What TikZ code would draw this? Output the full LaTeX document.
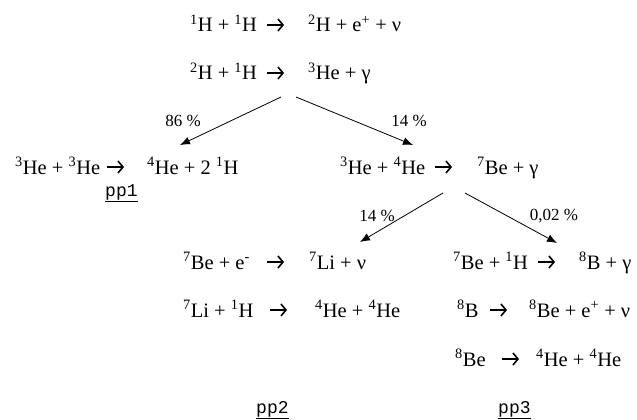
\documentclass[tikz,border=0pt]{standalone}
\usepackage{fontspec}
\setmainfont{Liberation Serif}
\newfontfamily\ppfont{Liberation Mono}
\usetikzlibrary{arrows.meta}
\tikzset{
  eq/.style={inner sep=0pt, anchor=base west, font=\fontsize{20.5}{24}\selectfont},
  pct/.style={inner sep=0pt, anchor=center, font=\fontsize{17}{20}\selectfont},
  pplabel/.style={inner sep=0pt, anchor=base west, font=\ppfont\fontsize{18}{20}\selectfont},
  conn/.style={line width=0.8pt, -{Latex[length=10pt,width=8pt]}},
  reac/.style={line width=1.5pt, line cap=butt, -{Straight Barb[length=5pt,width=12pt,line width=1.6pt]}}
}
\newcommand{\su}[1]{\textsuperscript{#1}}
\newcommand{\reacarrow}[2]{\coordinate (#1) at (#2); \draw[reac] (#1) -- ++(17,0);}
\begin{document}
\begin{tikzpicture}[x=1pt,y=-1pt]
\useasboundingbox (0,0) rectangle (637,420);
% row 1
\node[eq] (r1l) at (190,32) {\su{1}H + \su{1}H};
\reacarrow{r1a}{267,25}
\node[eq] (r1r) at (308,32) {\su{2}H + e\su{+} + ν};
% row 2
\node[eq] (r2l) at (190,80) {\su{2}H + \su{1}H};
\reacarrow{r2a}{267,73}
\node[eq] (r2r) at (308,80) {\su{3}He + γ};
% row 3 left
\node[eq] (r3ll) at (15,174) {\su{3}He + \su{3}He};
\reacarrow{r3la}{107,167}
\node[eq] (r3lr) at (147,174) {\su{4}He + 2 \su{1}H};
\node[pplabel] (pp1) at (105,196) {\underline{pp1}};
% row 3 right
\node[eq] (r3rl) at (340,174) {\su{3}He + \su{4}He};
\reacarrow{r3ra}{435,167}
\node[eq] (r3rr) at (477,174) {\su{7}Be + γ};
% pp2 branch
\node[eq] (r4ll) at (183,269) {\su{7}Be + e\su{-}};
\reacarrow{r4la}{267,262}
\node[eq] (r4lr) at (309,269) {\su{7}Li + ν};
\node[eq] (r5ll) at (183,317) {\su{7}Li + \su{1}H};
\reacarrow{r5la}{270,310}
\node[eq] (r5lr) at (315,317) {\su{4}He + \su{4}He};
% pp3 branch
\node[eq] (r4rl) at (453,269) {\su{7}Be + \su{1}H};
\reacarrow{r4ra}{538,262}
\node[eq] (r4rr) at (579,269) {\su{8}B + γ};
\node[eq] (r5rl) at (457,317) {\su{8}B};
\reacarrow{r5ra}{490,310}
\node[eq] (r5rr) at (529,317) {\su{8}Be + e\su{+} + ν};
\node[eq] (r6rl) at (455,366) {\su{8}Be};
\reacarrow{r6ra}{502,359}
\node[eq] (r6rr) at (536,366) {\su{4}He + \su{4}He};
% labels pp2 pp3
\node[pplabel] (pp2) at (256,413) {\underline{pp2}};
\node[pplabel] (pp3) at (498,413) {\underline{pp3}};
% connectors
\coordinate (s1) at (281,97);
\coordinate (t1) at (180,145);
\coordinate (s2) at (296,97);
\coordinate (t2) at (413,145);
\coordinate (s3) at (443,193);
\coordinate (t3) at (360,242);
\coordinate (s4) at (465,193);
\coordinate (t4) at (557,243);
\draw[conn] (s1) -- (t1);
\draw[conn] (s2) -- (t2);
\draw[conn] (s3) -- (t3);
\draw[conn] (s4) -- (t4);
\node[pct] (p1) at (183,121) {86 \%};
\node[pct] (p2) at (409,121) {14 \%};
\node[pct] (p3) at (377,216) {14 \%};
\node[pct] (p4) at (554,216) {0,02 \%};
\end{tikzpicture}
\end{document}
